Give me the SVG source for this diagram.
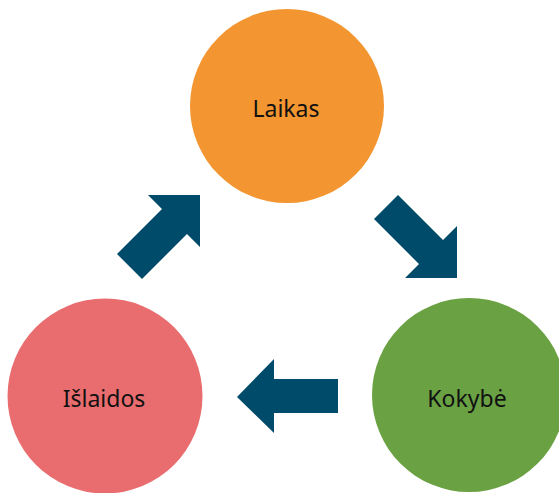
<svg xmlns="http://www.w3.org/2000/svg" width="559" height="493" viewBox="0 0 559 493">
<style>
.lbl{font-family:"Noto Sans","Open Sans",sans-serif;font-size:23px;fill:#111;text-anchor:middle}
.arr{fill:#004a6a}
</style>
<rect width="559" height="493" fill="#fff"/>
<g id="connectors">
<polygon class="arr" points="200,195 200,247 187,234 142,279 117,254 162,209 148,195"/>
<polygon class="arr" points="457,278 405,278 419,264 374,219 398,195 443,240 457,226"/>
<polygon class="arr" points="237,397 274,359 274,379 338,379 338,413 274,413 274,433"/>
</g>
<g id="laikas">
<circle cx="287" cy="106" r="97" fill="#f39530"/>
<text class="lbl" x="286" y="117">Laikas</text>
</g>
<g id="kokybe">
<circle cx="469" cy="395" r="97" fill="#6aa143"/>
<text class="lbl" x="467" y="407">Kokybė</text>
</g>
<g id="islaidos">
<circle cx="105" cy="396" r="97.5" fill="#e96d6f"/>
<text class="lbl" x="104" y="407">Išlaidos</text>
</g>
</svg>
